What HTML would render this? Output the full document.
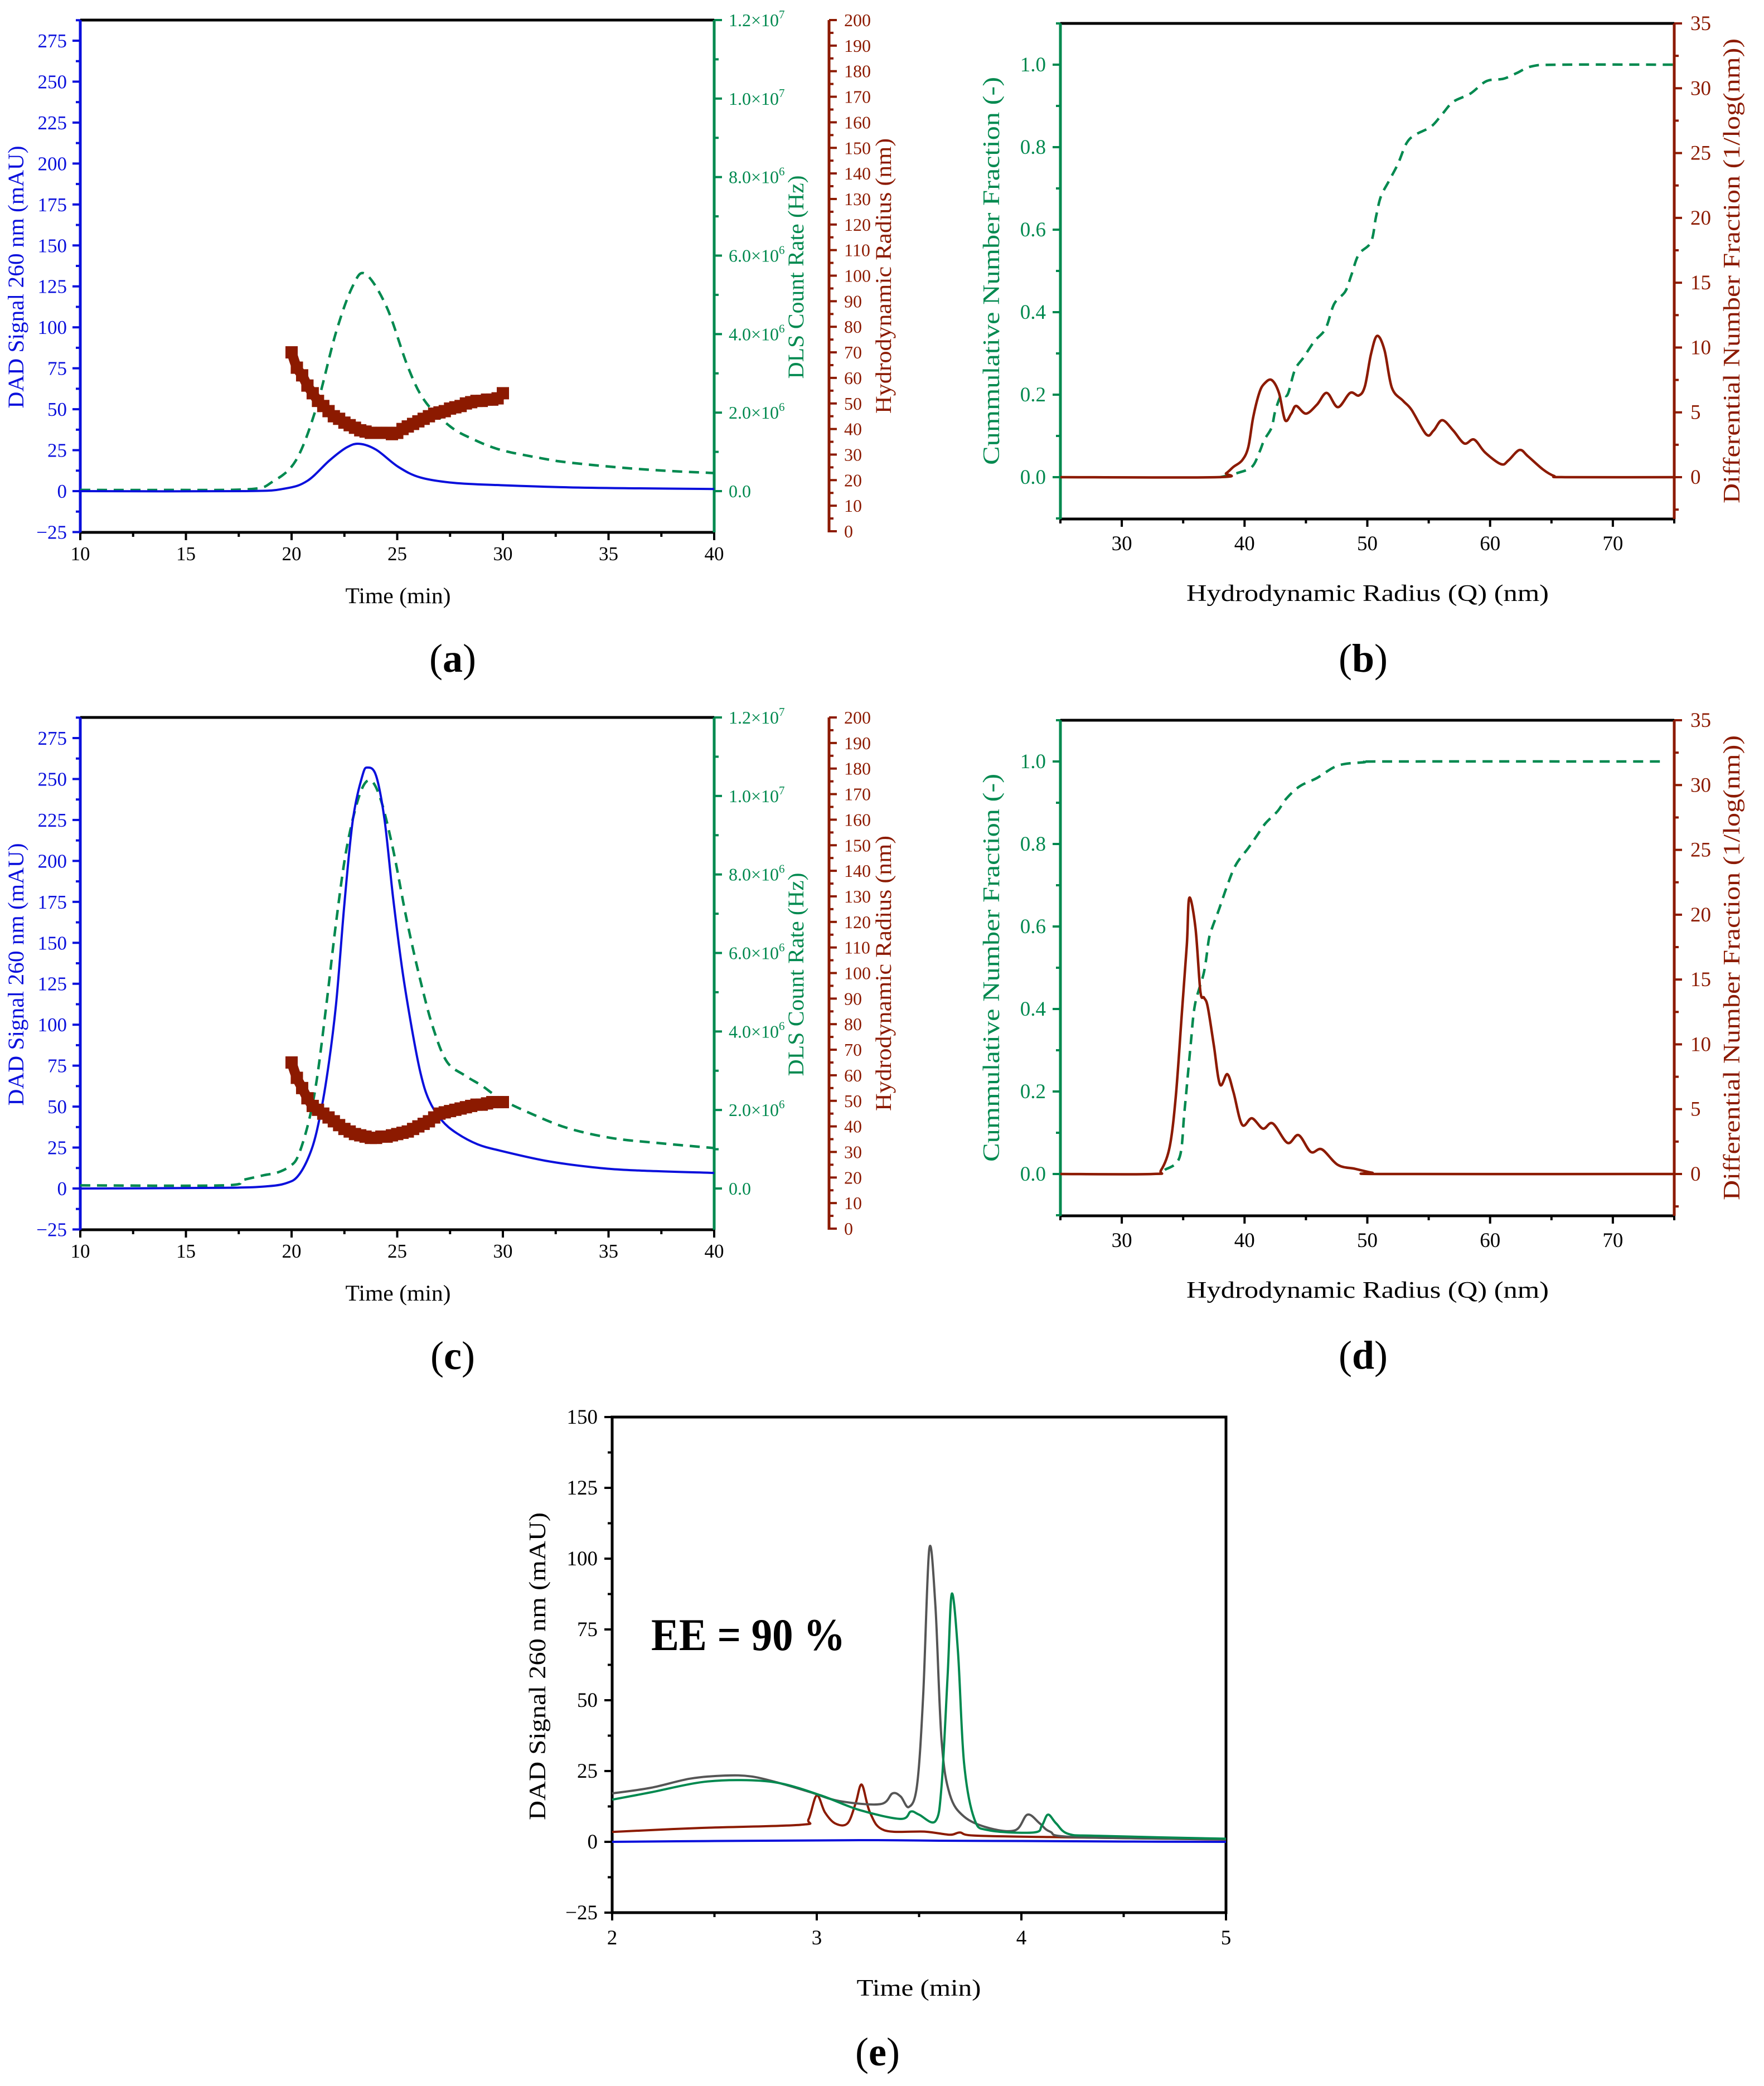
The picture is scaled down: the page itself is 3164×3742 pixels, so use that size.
<!DOCTYPE html>
<html><head><meta charset="utf-8"><style>
html,body{margin:0;padding:0;background:#fff;}
svg{display:block;font-family:"Liberation Serif",serif;}
</style></head><body>
<svg id="fig" width="3164" height="3742" viewBox="0 0 3164 3742" xmlns="http://www.w3.org/2000/svg"></svg>
<script>
// ---------- Data ----------
// Panel (a)
const aBlueT=[10,17.8,19.7,20.75,21.8,22.6,23.2,24,25.05,26.1,27.7,29.9,33.1,36.5,40];
const aBlueV=[0,0,1.6,6.3,18.8,26.6,28.9,25.3,14.8,8.3,5,3.6,2.3,1.7,1.3];
const aGreenT=[10,14,18,19.1,20.2,21.15,22.1,22.9,23.5,24.5,25.5,26.3,27.5,28.6,29.9,31.8,33.1,35.8,38,40];
const aGreenV=[0.03e6,0.03e6,0.05e6,0.24e6,0.78e6,2.09e6,4.04e6,5.23e6,5.53e6,4.69e6,3.17e6,2.3e6,1.65e6,1.32e6,1.05e6,0.84e6,0.73e6,0.59e6,0.51e6,0.46e6];
const aRadT=[20,20.25,20.5,20.75,21,21.25,21.5,21.75,22,22.25,22.5,22.75,23,23.25,23.5,23.75,24,24.25,24.5,24.75,25,25.25,25.5,25.75,26,26.25,26.5,26.75,27,27.25,27.5,27.75,28,28.25,28.5,28.75,29,29.25,29.5,29.75,30];
const aRadV=[70,64,61,57,54,51,49,47,45,44,42.5,41.5,40.5,39.5,39,38.5,38.5,38.5,38.5,38,38.5,40,41,42,43,44,45,46,46.5,47,48,48.5,49,50,50.5,51,51,51.5,51.5,52,54];
// Panel (c)
const cBlueT=[10,16.8,18.9,19.8,20.3,20.8,21.2,21.65,22.1,22.5,22.9,23.35,23.6,24,24.4,24.8,25.25,25.7,26.1,26.5,27.1,27.8,28.8,29.9,32,34.1,36.2,40];
const cBlueV=[0,0.4,1.4,3.5,7.6,19,35.5,66.5,112,174,225,252,257,252,225,178,132.5,97,70.6,54,41.7,33.9,27,23,17,13.2,11.1,9.5];
const cGreenT=[10,16.8,17.65,18.7,19.3,19.9,20.3,20.8,21.2,21.65,22.1,22.6,23.2,23.7,24.2,24.8,25.45,26.1,26.7,27.35,28.2,29,29.9,31.2,33,35.1,37.3,40];
const cGreenV=[0.08e6,0.08e6,0.21e6,0.34e6,0.4e6,0.56e6,0.82e6,1.68e6,2.8e6,4.69e6,6.75e6,8.65e6,10.0e6,10.4e6,9.94e6,8.65e6,6.84e6,5.29e6,4.09e6,3.23e6,2.88e6,2.62e6,2.28e6,1.94e6,1.55e6,1.29e6,1.16e6,1.03e6];
const cRadT=aRadT;
const cRadV=[65,59,55,51,48,46.5,45,43.5,42,40.5,39,38,37,36.5,36,35.5,35.5,36,36,36.5,37,37.5,38,39,40,41,42,43.5,45,45.5,46,46.5,47,47.5,48,48.5,48.5,49,49.5,49.5,49.5];
// Panel (b)
const bDiffX=[25,37.8,38.5,39.1,39.8,40.3,40.7,41.2,41.6,42.2,42.8,43.3,43.8,44.2,45,45.9,46.7,47.6,48.6,49.3,49.8,50.3,50.8,51.4,52,52.9,53.6,54.8,55.4,56.1,57,57.9,58.7,59.6,60.9,61.5,62.4,63.1,64.3,65.2,66.1,75];
const bDiffV=[0,0,0.3,0.8,1.3,2.3,4.6,6.5,7.2,7.5,6.5,4.4,4.9,5.5,4.9,5.6,6.5,5.4,6.5,6.3,7,9.5,10.9,9.8,6.9,5.9,5.2,3.3,3.6,4.4,3.6,2.6,2.9,1.9,1.0,1.3,2.1,1.6,0.6,0.1,0,0];
const bCumX=[38,39.4,40.6,41.2,41.6,42.2,42.5,43,43.5,44.1,44.8,45.7,46.6,47.3,48.2,48.7,49.3,50.3,50.7,51.1,51.8,52.5,53.2,53.9,55.2,56.1,57,58.4,59.7,61.1,62.2,63.4,65.6,75];
const bCumV=[0,0.01,0.025,0.06,0.09,0.12,0.16,0.2,0.2,0.26,0.29,0.33,0.36,0.42,0.45,0.49,0.54,0.57,0.63,0.68,0.72,0.76,0.81,0.83,0.85,0.88,0.91,0.93,0.96,0.966,0.98,0.996,1.0,1.0];
// Panel (d)
const dDiffX=[25,32.5,33.2,33.9,34.4,34.9,35.3,35.5,36,36.4,36.7,37,37.5,38,38.6,39.1,39.8,40.6,41.5,42.3,43.5,44.4,45.4,46.3,47.6,49,50.4,51.5,75];
const dDiffV=[0,0,0.3,2.1,6,12.5,17.7,21.3,19,14.1,13.6,12.9,9.9,6.9,7.7,6.3,3.8,4.3,3.5,3.9,2.4,3.0,1.7,1.9,0.7,0.4,0.1,0,0];
const dCumX=[33.5,34.7,35.1,35.6,35.96,36.7,37.1,37.4,37.9,38.6,39.3,40.3,41,41.7,42.7,43.4,44.5,45.9,47.6,49.7,51.8,74.2];
const dCumV=[0.01,0.04,0.15,0.31,0.41,0.49,0.57,0.6,0.64,0.7,0.75,0.79,0.82,0.85,0.88,0.91,0.94,0.96,0.99,0.998,1.0,1.0];
// Panel (e)
const eGrayT=[2,2.19,2.38,2.55,2.68,2.82,2.97,3.11,3.31,3.37,3.41,3.45,3.49,3.52,3.55,3.58,3.61,3.65,3.72,3.84,3.97,4.03,4.09,4.14,4.26,5];
const eGrayV=[17.1,19.1,22.3,23.4,23.1,20.7,17.5,14.4,13.3,17.1,16,12.3,19.9,51.5,103.4,83,35.7,16.8,8.9,4.9,4.1,9.6,6.5,3.6,1.7,0.9];
const eGreenT=[2,2.19,2.43,2.63,2.82,3.02,3.21,3.41,3.46,3.5,3.58,3.61,3.64,3.66,3.69,3.72,3.77,3.84,4.06,4.1,4.13,4.17,4.23,4.38,5];
const eGreenV=[14.9,17.5,21,21.8,20.7,16.4,11.2,8.1,10.7,9.6,7.3,19.9,59.4,87.6,67.3,27.8,8.1,4.1,3.3,5.7,9.6,6.5,2.8,2.1,1.1];
const eRedT=[2,2.43,2.92,2.96,3.0,3.04,3.09,3.15,3.19,3.22,3.26,3.33,3.53,3.65,3.7,3.77,4.14,5];
const eRedV=[3.5,4.9,6,8,16.4,10.4,6.5,6.5,13.6,20.2,10.4,4.1,3.6,2.5,3.3,2.2,1.7,0.8];
const eBlueT=[2,2.5,3,3.3,3.6,4,4.5,5];
const eBlueV=[0,0.3,0.5,0.6,0.4,0.3,0.1,0];
// Tick label arrays
const timeTicksAC=[10,15,20,25,30,35,40];
const dadTicksAC=[-25,0,25,50,75,100,125,150,175,200,225,250,275];
const dlsTicks=[0,2e6,4e6,6e6,8e6,1e7,1.2e7];
const dlsLabels=[["0.0",""],["2.0×10","6"],["4.0×10","6"],["6.0×10","6"],["8.0×10","6"],["1.0×10","7"],["1.2×10","7"]];
const radTicks=[0,10,20,30,40,50,60,70,80,90,100,110,120,130,140,150,160,170,180,190,200];
const hrTicks=[30,40,50,60,70];
const cumTicks=[0,0.2,0.4,0.6,0.8,1.0];
const diffTicks=[0,5,10,15,20,25,30,35];
const eTimeTicks=[2,3,4,5];
const eDadTicks=[-25,0,25,50,75,100,125,150];

// ---------- Helpers ----------
const NS='http://www.w3.org/2000/svg';
const svg=document.getElementById('fig');
function mk(tag,attrs,parent){const e=document.createElementNS(NS,tag);for(const k in attrs)e.setAttribute(k,attrs[k]);(parent||svg).appendChild(e);return e;}
function lin(d0,d1,r0,r1){return v=>r0+(v-d0)*(r1-r0)/(d1-d0);}
function smooth(pts){let d='M'+pts[0][0].toFixed(1)+','+pts[0][1].toFixed(1);
 for(let i=0;i<pts.length-1;i++){const p0=pts[i-1]||pts[i],p1=pts[i],p2=pts[i+1],p3=pts[i+2]||p2;
  const c1=[p1[0]+(p2[0]-p0[0])/6,p1[1]+(p2[1]-p0[1])/6],c2=[p2[0]-(p3[0]-p1[0])/6,p2[1]-(p3[1]-p1[1])/6];
  d+='C'+c1[0].toFixed(1)+','+c1[1].toFixed(1)+' '+c2[0].toFixed(1)+','+c2[1].toFixed(1)+' '+p2[0].toFixed(1)+','+p2[1].toFixed(1);}
 return d;}
function line(xs,ys,sx,sy,color,w,dash,name){const pts=xs.map((x,i)=>[sx(x),sy(ys[i])]);
 const p=mk('path',{d:smooth(pts),fill:'none',stroke:color,'stroke-width':w,'stroke-linejoin':'round'});
 if(dash)p.setAttribute('stroke-dasharray',dash);
 
 
 return p;}
function txt(x,y,s,size,color,anchor,name,extra){const t=mk('text',Object.assign({x:x,y:y,'font-size':size,fill:color,'text-anchor':anchor||'start'},extra||{}));t.textContent=s;
 
 
 return t;}
function vtitle(x,cy,s,size,color,len,name){const t=mk('text',{x:0,y:0,'font-size':size,fill:color,'text-anchor':'middle',transform:'translate('+x+','+cy+') rotate(-90)',textLength:len,lengthAdjust:'spacingAndGlyphs'});t.textContent=s;
 
 
 return t;}
function vline(x,y0,y1,c,w,name){const l=mk('line',{x1:x,x2:x,y1:y0,y2:y1,stroke:c,'stroke-width':w});
 
 return l;}
function hline(y,x0,x1,c,w,name){const l=mk('line',{x1:x0,x2:x1,y1:y,y2:y,stroke:c,'stroke-width':w});
 
 return l;}
function ticksY(x,vals,sy,len,c,name){vals.forEach(v=>{const y=sy(v);const l=mk('line',{x1:x,x2:x+len,y1:y,y2:y,stroke:c,'stroke-width':4});
 
 });}
function ticksX(y,vals,sx,len,c,name){vals.forEach(v=>{const x=sx(v);const l=mk('line',{x1:x,x2:x,y1:y,y2:y+len,stroke:c,'stroke-width':4});
 
 });}
function range(a,b,s){const r=[];for(let v=a;v<=b+1e-9;v+=s)r.push(+v.toFixed(4));return r;}
function panelLabel(cx,y,letter,name){const t=mk('text',{x:cx,y:y,'font-size':72,fill:'#000','text-anchor':'middle'});
 
 
 t.appendChild(document.createTextNode('('));const b=mk('tspan',{'font-weight':'bold'},t);b.textContent=letter;t.appendChild(document.createTextNode(')'));}

const BLUE='#0a10dc',GREEN='#00894f',RED='#8c1a00',GRAY='#555555',BLK='#000';

// ---------- Panels a / c ----------
function panelAC(dy,blueT,blueV,greenT,greenV,radT,radV,letter){
 const x0=144,x1=1281,y0=36+dy,y1=955+dy;
 const sx=lin(10,40,x0,x1);
 const sBlue=lin(0,275,881+dy,73+dy);
 const sGreen=lin(0,1.2e7,881+dy,y0);
 const sRad=lin(0,200,953+dy,y0);
 hline(y0,x0,x1,BLK,5,'plot-top-border');
 hline(y1,x0,x1,BLK,5,'x-axis-line');
 vline(x0,y0,y1,BLUE,5,'dad-axis-line');
 vline(x1,y0,y1,GREEN,5,'dls-axis-line');
 vline(1487,y0,y1,RED,5,'radius-axis-line');
 ticksX(y1,timeTicksAC,sx,14,BLK,'x-major-tick');
 ticksX(y1,range(12.5,37.5,5),sx,8,BLK,'x-minor-tick');
 timeTicksAC.forEach(v=>txt(sx(v),y1+50,String(v),35,BLK,'middle','x-tick-label'));
 txt(714,1082+dy,'Time (min)',40,BLK,'middle','x-axis-title',{textLength:189,lengthAdjust:'spacingAndGlyphs'});
 ticksY(x0,dadTicksAC,sBlue,-14,BLUE,'dad-major-tick');
 ticksY(x0,range(-12.5,287.5,25).filter(v=>sBlue(v)>y0),sBlue,-8,BLUE,'dad-minor-tick');
 dadTicksAC.forEach(v=>txt(120,sBlue(v)+12,v<0?'\u2212'+(-v):String(v),35,BLUE,'end','dad-tick-label'));
 vtitle(42,497+dy,'DAD Signal 260 nm (mAU)',40,BLUE,471,'dad-axis-title');
 ticksY(x1,dlsTicks,sGreen,14,GREEN,'dls-major-tick');
 ticksY(x1,range(1e6,1.1e7,2e6),sGreen,8,GREEN,'dls-minor-tick');
 dlsTicks.forEach((v,i)=>{const t=txt(1307,sGreen(v)+11,dlsLabels[i][0],32,GREEN,'start','dls-tick-label');
  if(dlsLabels[i][1]){const s=mk('tspan',{'font-size':21,dy:-14},t);s.textContent=dlsLabels[i][1];}});
 vtitle(1441,497+dy,'DLS Count Rate (Hz)',40,GREEN,365,'dls-axis-title');
 ticksY(1487,radTicks,sRad,14,RED,'radius-major-tick');
 ticksY(1487,range(5,195,10),sRad,8,RED,'radius-minor-tick');
 radTicks.forEach(v=>txt(1514,sRad(v)+11,String(v),32,RED,'start','radius-tick-label'));
 vtitle(1598,495+dy,'Hydrodynamic Radius (nm)',40,RED,494,'radius-axis-title');
 line(greenT,greenV,sx,sGreen,GREEN,4.5,'18 12','dls-count-rate-line');
 line(blueT,blueV,sx,sBlue,BLUE,4,null,'dad-signal-line');
 line(radT,radV,sx,sRad,RED,18,null,'radius-band');
 radT.forEach((t,i)=>{const r=mk('rect',{x:sx(t)-11,y:sRad(radV[i])-11,width:22,height:22,fill:RED});
  
  });
 panelLabel(812,1205+dy,letter,'panel-label-'+letter);
}
panelAC(0,aBlueT,aBlueV,aGreenT,aGreenV,aRadT,aRadV,'a');
panelAC(1251,cBlueT,cBlueV,cGreenT,cGreenV,cRadT,cRadV,'c');

// ---------- Panels b / d ----------
function panelBD(dy,diffX,diffV,cumX,cumV,letter){
 const x0=1902,x1=3003,y0=42+dy,y1=931+dy;
 const sx=lin(25,75,x0,x1);
 const sCum=lin(0,1,856+dy,116+dy);
 const sDiff=lin(0,35,856+dy,y0);
 hline(y0,x0,x1,BLK,5,'plot-top-border');
 hline(y1,x0,x1,BLK,5,'x-axis-line');
 vline(x0,y0,y1,GREEN,5,'cumulative-axis-line');
 vline(x1,y0,y1,RED,5,'differential-axis-line');
 ticksX(y1,hrTicks,sx,14,BLK,'x-major-tick');
 ticksX(y1,range(25,75,10),sx,8,BLK,'x-minor-tick');
 hrTicks.forEach(v=>txt(sx(v),987+dy,String(v),37,BLK,'middle','x-tick-label'));
 txt(2453,1078+dy,'Hydrodynamic Radius (Q) (nm)',42,BLK,'middle','x-axis-title',{textLength:650,lengthAdjust:'spacingAndGlyphs'});
 ticksY(x0,cumTicks,sCum,-14,GREEN,'cumulative-major-tick');
 ticksY(x0,range(-0.1,1.1,0.2),sCum,-8,GREEN,'cumulative-minor-tick');
 cumTicks.forEach(v=>txt(1876,sCum(v)+12,v.toFixed(1),37,GREEN,'end','cumulative-tick-label'));
 vtitle(1792,486+dy,'Cummulative Number Fraction (-)',42,GREEN,696,'cumulative-axis-title');
 ticksY(x1,diffTicks,sDiff,14,RED,'differential-major-tick');
 ticksY(x1,range(-2.5,32.5,5),sDiff,8,RED,'differential-minor-tick');
 diffTicks.forEach(v=>txt(3032,sDiff(v)+12,String(v),37,RED,'start','differential-tick-label'));
 vtitle(3120,486+dy,'Differential Number Fraction (1/log(nm))',42,RED,834,'differential-axis-title');
 line(cumX,cumV,sx,sCum,GREEN,4.5,'18 12','cumulative-fraction-line');
 line(diffX,diffV,sx,sDiff,RED,4.5,null,'differential-fraction-line');
 panelLabel(2445,1205+dy,letter,'panel-label-'+letter);
}
panelBD(0,bDiffX,bDiffV,bCumX,bCumV,'b');
panelBD(1250,dDiffX,dDiffV,dCumX,dCumV,'d');

// ---------- Panel e ----------
(function(){
 const x0=1098,x1=2199,y0=2542,y1=3431;
 const sx=lin(2,5,x0,x1);
 const sy=lin(-25,150,y1,y0);
 const fr=mk('rect',{x:x0,y:y0,width:x1-x0,height:y1-y0,fill:'none',stroke:BLK,'stroke-width':5});
 
 
 ticksX(y1,eTimeTicks,sx,14,BLK,'x-major-tick');
 ticksX(y1,range(2.5,4.5,1),sx,8,BLK,'x-minor-tick');
 eTimeTicks.forEach(v=>txt(sx(v),3488,String(v),37,BLK,'middle','x-tick-label'));
 txt(1648,3580,'Time (min)',42,BLK,'middle','x-axis-title',{textLength:223,lengthAdjust:'spacingAndGlyphs'});
 ticksY(x0,eDadTicks,sy,-14,BLK,'y-major-tick');
 ticksY(x0,range(-12.5,137.5,25),sy,-8,BLK,'y-minor-tick');
 eDadTicks.forEach(v=>txt(1072,sy(v)+12,v<0?'\u2212'+(-v):String(v),37,BLK,'end','y-tick-label'));
 vtitle(978,2989,'DAD Signal 260 nm (mAU)',42,BLK,552,'y-axis-title');
 line(eBlueT,eBlueV,sx,sy,BLUE,4,null,'blue-trace');
 line(eRedT,eRedV,sx,sy,RED,4,null,'maroon-trace');
 line(eGrayT,eGrayV,sx,sy,GRAY,4,null,'gray-trace');
 line(eGreenT,eGreenV,sx,sy,GREEN,4,null,'green-trace');
 txt(1168,2960,'EE = 90 %',82,BLK,'start','ee-annotation',{'font-weight':'bold',textLength:348,lengthAdjust:'spacingAndGlyphs'});
 panelLabel(1574,3705,'e','panel-label-e');
})();
</script>
</body></html>
